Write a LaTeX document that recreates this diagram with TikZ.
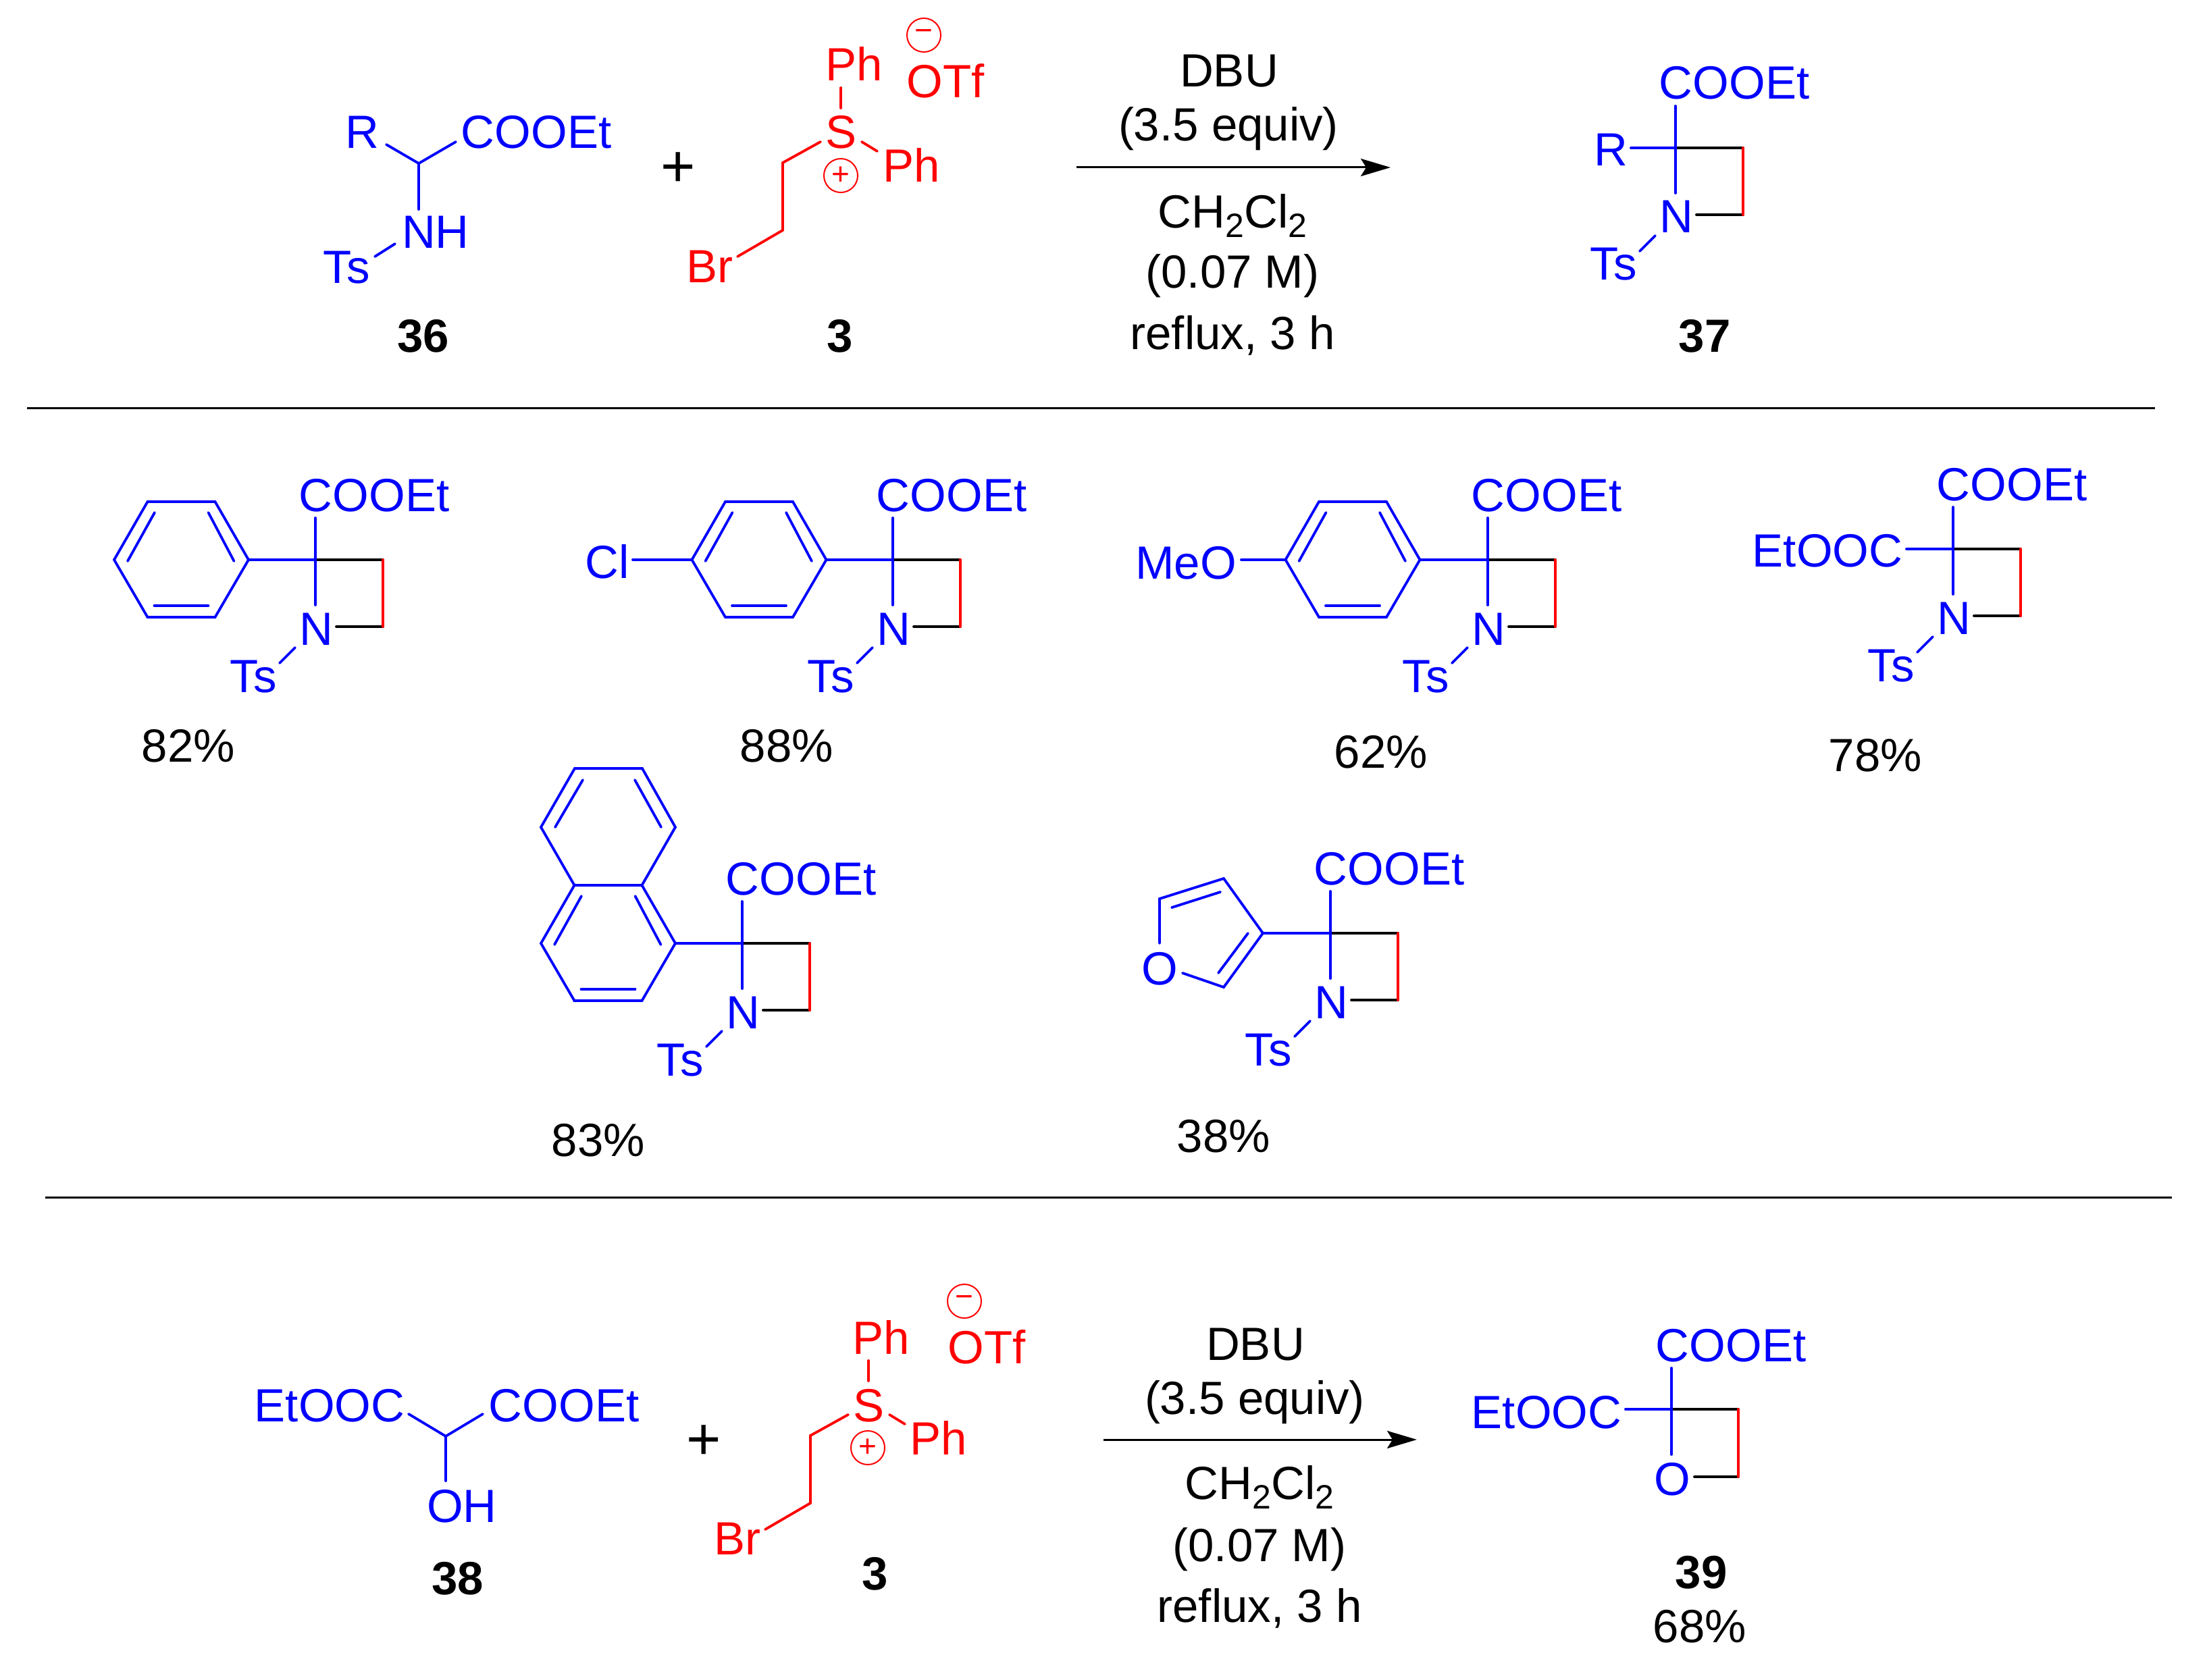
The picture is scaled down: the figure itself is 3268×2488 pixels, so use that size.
\documentclass[tikz,border=0pt]{standalone}
\usepackage{fontspec}
\setmainfont{Liberation Sans}
\usetikzlibrary{arrows.meta}
\newcommand{\subtwo}{\raisebox{-7pt}{\fontsize{25}{25}\selectfont 2}}
\tikzset{
  lab/.style={inner sep=0pt,outer sep=0pt,anchor=base,font=\fontsize{34.5}{40}\selectfont},
  bl/.style={lab,text=blue},
  rd/.style={lab,text=red},
  bd/.style={lab,font=\fontsize{34.5}{40}\selectfont\bfseries},
  plussign/.style={inner sep=0pt,font=\fontsize{44}{44}\selectfont},
  bb/.style={draw=blue,line width=1.9pt,line cap=round,line join=miter},
  br/.style={draw=red,line width=1.9pt,line cap=round,line join=miter},
  bk/.style={draw=black,line width=1.9pt,line cap=round},
  rule/.style={draw=black,line width=1.5pt},
  rxn/.style={draw=black,line width=1.5pt,-{Stealth[length=22pt,width=13pt,inset=4pt]}},
  chg/.style={circle,draw=red,line width=1pt,minimum size=25pt,inner sep=0pt,text=red,font=\fontsize{23}{23}\selectfont},
  azet/.pic={
    \coordinate (-c) at (0,0);
    \coordinate (-t) at (0,-62);
    \coordinate (-d) at (0,67);
    \coordinate (-tr) at (100,0);
    \coordinate (-br) at (100,99);
    \coordinate (-ni) at (31,99);
    \coordinate (-n1) at (-30,130);
    \coordinate (-n2) at (-53,153);
    \node[bl] (-coo) at (87,-72) {COOEt};
    \node[bl] (-n) at (1,126) {N};
    \node[bl] (-ts) at (-92,196) {Ts};
    \draw[bk] (-c) -- (-tr);
    \draw[bk] (-br) -- (-ni);
    \draw[br] (-tr) -- (-br);
    \draw[bb] (-t) -- (-d);
    \draw[bb] (-n1) -- (-n2);
  },
  benz/.pic={
    \coordinate (-l) at (-99.5,0);
    \coordinate (-tl) at (-50,-86);
    \coordinate (-tr) at (50,-86);
    \coordinate (-r) at (99.5,0);
    \coordinate (-br) at (50,85);
    \coordinate (-bl) at (-50,85);
    \draw[bb] (-l) -- (-tl) -- (-tr) -- (-r) -- (-br) -- (-bl) -- cycle;
    \draw[bb] (-79.5,2) -- (-39.5,-70);
    \draw[bb] (40,-70) -- (78,2);
    \draw[bb] (-40,68) -- (40,68);
  },
  sulf/.pic={
    \coordinate (-a1) at (0,-90);
    \coordinate (-a2) at (0,-60);
    \coordinate (-b1) at (-30,-10);
    \coordinate (-b2) at (-86,21);
    \coordinate (-b3) at (-86,121);
    \coordinate (-b4) at (-153,160);
    \coordinate (-c1) at (31,-10);
    \coordinate (-c2) at (54,4);
    \draw[br] (-a1) -- (-a2);
    \draw[br] (-b1) -- (-b2) -- (-b3) -- (-b4);
    \draw[br] (-c1) -- (-c2);
  }
}
\begin{document}
\begin{tikzpicture}[x=0.5pt,y=-0.5pt]
\useasboundingbox (0,0) rectangle (3268,2488);
% ---------- top reaction
\coordinate (a36) at (620,242);
\coordinate (a36r) at (572,214);
\coordinate (a36c) at (675,210);
\coordinate (a36n) at (620,310);
\coordinate (a36t1) at (585,361);
\coordinate (a36t2) at (555,380);
\draw[bb] (a36r) -- (a36) -- (a36c);
\draw[bb] (a36) -- (a36n);
\draw[bb] (a36t1) -- (a36t2);
\node[bl] (l36r) at (536,220) {R};
\node[bl] (l36c) at (794,220) {COOEt};
\node[bl] (l36n) at (645,368) {NH};
\node[bl] (l36t) at (513,419) {Ts};
\node[bd] (n36) at (627,521) {36};
\node[plussign] (p1) at (1004,251) {+};
\pic (s1) at (1245,220) {sulf};
\node[rd] (s1ph1) at (1265,120) {Ph};
\node[rd] (s1otf) at (1400,145) {OTf};
\node[chg] (s1m) at (1368,52) {−};
\node[rd] (s1s) at (1245,220) {S};
\node[rd] (s1ph2) at (1350,270) {Ph};
\node[chg] (s1p) at (1245,260) {+};
\node[rd] (s1br) at (1051,418) {Br};
\node[bd] (n3a) at (1244,521) {3};
\coordinate (ar1s) at (1594,248);
\coordinate (ar1e) at (2059,248);
\draw[rxn] (ar1s) -- (ar1e);
\node[lab] (c1a) at (1820,129) {DBU};
\node[lab] (c1b) at (1819,209) {(3.5 equiv)};
\node[lab] (c1c) at (1825,337) {CH\subtwo Cl\subtwo};
\node[lab] (c1d) at (1825,426) {(0.07 M)};
\node[lab] (c1e) at (1825,517) {reflux, 3 h};
\pic (p37) at (2481,219) {azet};
\node[bl] (l37r) at (2385,246) {R};
\coordinate (p37b) at (2415,219);
\draw[bb] (p37b) -- (p37-c);
\node[bd] (n37) at (2524,521) {37};
\coordinate (r1a) at (40,604);
\coordinate (r1b) at (3191,604);
\draw[rule] (r1a) -- (r1b);
% ---------- products row 1
\pic (a1) at (467,829) {azet};
\pic (b1) at (268.5,829) {benz};
\draw[bb] (b1-r) -- (a1-c);
\node[lab] (y1) at (279,1128) {82\%};
\pic (a2) at (1322,829) {azet};
\pic (b2) at (1124,829) {benz};
\draw[bb] (b2-r) -- (a2-c);
\node[bl] (cl) at (899,856) {Cl};
\coordinate (cl1) at (937,829);
\draw[bb] (cl1) -- (b2-l);
\node[lab] (y2) at (1165,1128) {88\%};
\pic (a3) at (2203,829) {azet};
\pic (b3) at (2003,829) {benz};
\draw[bb] (b3-r) -- (a3-c);
\node[bl] (meo) at (1756,857) {MeO};
\coordinate (meo1) at (1838,829);
\draw[bb] (meo1) -- (b3-l);
\node[lab] (y3) at (2045,1137) {62\%};
\pic (a4) at (2892,813) {azet};
\node[bl] (eto1) at (2706,839) {EtOOC};
\coordinate (eto1b) at (2823,813);
\draw[bb] (eto1b) -- (a4-c);
\node[lab] (y4) at (2777,1142) {78\%};
% ---------- products row 2
\pic (a5) at (1099,1397) {azet};
\pic (b5) at (900.5,1397) {benz};
\draw[bb] (b5-r) -- (a5-c);
\coordinate (u1) at (801,1225);
\coordinate (u2) at (851,1138);
\coordinate (u3) at (951,1138);
\coordinate (u4) at (1000,1225);
\draw[bb] (b5-tl) -- (u1) -- (u2) -- (u3) -- (u4) -- (b5-tr);
\draw[bb] (822,1225) -- (863,1155);
\draw[bb] (940,1155) -- (979,1225);
\node[lab] (y5) at (886,1712) {83\%};
\pic (a6) at (1970,1382) {azet};
\coordinate (f1) at (1870,1382);
\coordinate (f2) at (1812,1301);
\coordinate (f3) at (1717,1331);
\coordinate (f4) at (1717,1397);
\coordinate (f5) at (1751,1441);
\coordinate (f6) at (1812,1462);
\draw[bb] (f4) -- (f3) -- (f2) -- (f1) -- (f6) -- (f5);
\draw[bb] (f1) -- (a6-c);
\draw[bb] (1735,1344) -- (1807,1321);
\draw[bb] (1848,1382) -- (1804,1441);
\node[bl] (fo) at (1717,1458) {O};
\node[lab] (y6) at (1812,1706) {38\%};
\coordinate (r2a) at (67,1773);
\coordinate (r2b) at (3216,1773);
\draw[rule] (r2a) -- (r2b);
% ---------- bottom reaction
\coordinate (a38) at (660,2127);
\coordinate (a38l) at (605,2094);
\coordinate (a38r) at (715,2094);
\coordinate (a38o) at (660,2193);
\draw[bb] (a38l) -- (a38) -- (a38r);
\draw[bb] (a38) -- (a38o);
\node[bl] (l38l) at (488,2105) {EtOOC};
\node[bl] (l38r) at (835,2105) {COOEt};
\node[bl] (l38o) at (684,2254) {OH};
\node[bd] (n38) at (678,2361) {38};
\node[plussign] (p2) at (1042,2136) {+};
\pic (s2) at (1286,2105) {sulf};
\node[rd] (s2ph1) at (1305,2005) {Ph};
\node[rd] (s2otf) at (1461,2019) {OTf};
\node[chg] (s2m) at (1428,1927) {−};
\node[rd] (s2s) at (1286,2105) {S};
\node[rd] (s2ph2) at (1390,2154) {Ph};
\node[chg] (s2p) at (1285,2144) {+};
\node[rd] (s2br) at (1092,2302) {Br};
\node[bd] (n3b) at (1296,2354) {3};
\coordinate (ar2s) at (1634,2132);
\coordinate (ar2e) at (2098,2132);
\draw[rxn] (ar2s) -- (ar2e);
\node[lab] (c2a) at (1859,2014) {DBU};
\node[lab] (c2b) at (1858,2094) {(3.5 equiv)};
\node[lab] (c2c) at (1865,2220) {CH\subtwo Cl\subtwo};
\node[lab] (c2d) at (1865,2312) {(0.07 M)};
\node[lab] (c2e) at (1865,2402) {reflux, 3 h};
% ---------- oxetane 39
\coordinate (oc) at (2475,2087);
\coordinate (ot) at (2475,2026);
\coordinate (od) at (2475,2154);
\coordinate (ol) at (2407,2087);
\coordinate (otr) at (2574,2087);
\coordinate (obr) at (2574,2187);
\coordinate (oo) at (2509,2187);
\draw[bk] (oc) -- (otr);
\draw[bk] (obr) -- (oo);
\draw[br] (otr) -- (obr);
\draw[bb] (ot) -- (od);
\draw[bb] (ol) -- (oc);
\node[bl] (l39c) at (2563,2016) {COOEt};
\node[bl] (l39e) at (2290,2115) {EtOOC};
\node[bl] (l39o) at (2476,2214) {O};
\node[bd] (n39) at (2519,2352) {39};
\node[lab] (y39) at (2517,2432) {68\%};
\end{tikzpicture}
\end{document}
